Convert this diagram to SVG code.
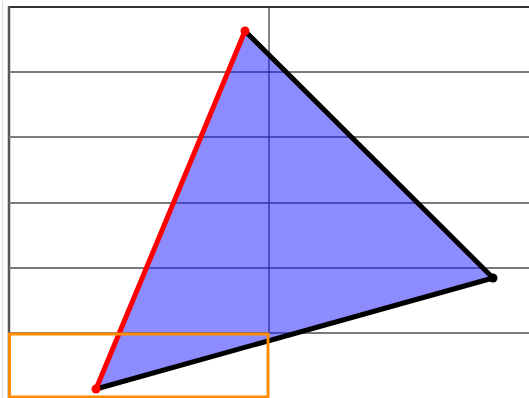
<svg xmlns="http://www.w3.org/2000/svg" width="529" height="398" viewBox="0 0 529 398">
<style>
.grid{stroke:#7a7a7a;stroke-width:2;fill:none}
.edge{fill:none;stroke-width:5;stroke-linecap:round}
</style>
<rect width="529" height="398" fill="#ffffff"/>
<g id="grid">
<line x1="2.5" y1="0" x2="2.5" y2="398" stroke="#e2e2e2" stroke-width="1.5"/>
<line x1="9" y1="7" x2="529" y2="7" stroke="#333" stroke-width="2"/>
<line x1="9" y1="6" x2="9" y2="398" stroke="#555" stroke-width="2.5"/>
<line class="grid" x1="9" y1="72" x2="529" y2="72"/>
<line class="grid" x1="9" y1="137" x2="529" y2="137" stroke="#333"/>
<line class="grid" x1="9" y1="203" x2="529" y2="203" stroke="#444"/>
<line class="grid" x1="9" y1="268" x2="529" y2="268"/>
<line class="grid" x1="9" y1="333" x2="529" y2="333" stroke="#aaa"/>
<line x1="269" y1="7" x2="269" y2="333" stroke="#333" stroke-width="1.2"/>
</g>
<g id="triangle">
<polygon points="96,389 245,31 493,278" fill="#1a1aff" fill-opacity="0.5"/>
</g>
<g id="connectors">
<line class="edge" x1="245" y1="31" x2="493" y2="278" stroke="#000"/>
<line class="edge" x1="493" y1="278" x2="96" y2="389" stroke="#000"/>
<line class="edge" x1="96" y1="389" x2="245" y2="31" stroke="#ff0000"/>
</g>
<g id="vertices">
<circle cx="245" cy="31" r="4.5" fill="#ff0000"/>
<circle cx="96" cy="389" r="4.5" fill="#ff0000"/>
<circle cx="493" cy="278" r="4.5" fill="#000"/>
</g>
<g id="selection">
<rect x="9.5" y="334" width="258.5" height="63" fill="none" stroke="#ff8c00" stroke-width="3"/>
</g>
</svg>
